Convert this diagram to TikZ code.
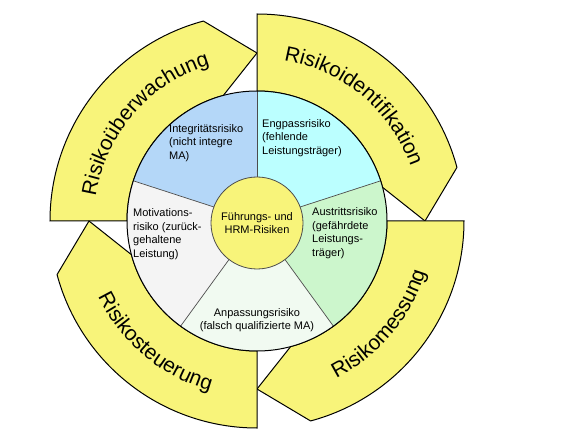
\documentclass[tikz,border=0pt]{standalone}
\usepackage{fontspec}
\setmainfont{Liberation Sans}
\usetikzlibrary{decorations.text}

\definecolor{bandyellow}{RGB}{248,244,122}
\definecolor{integblue}{RGB}{180,215,248}
\definecolor{engpasscyan}{RGB}{187,255,255}
\definecolor{austrittgreen}{RGB}{204,246,204}
\definecolor{anpassgreen}{RGB}{241,250,241}
\definecolor{motivgray}{RGB}{244,244,244}

\newcommand{\bandfont}{\fontsize{21}{25}\selectfont}

\begin{document}
\begin{tikzpicture}[x=1pt, y=1pt,
    band/.style={draw=black, line width=1pt, fill=bandyellow},
    bandtext/.style={decorate, decoration={text along path, text align=center, text={|\bandfont|#1}}},
    divider/.style={draw=black!70, line width=0.7pt}]

        \useasboundingbox (-257,-215) rectangle (310,221);

        % outer ring of four arrows
        \draw[band] (180:130) -- (180:207) arc[start angle=180, end angle=105, radius=207] -- (90:168) -- (105:130) arc[start angle=105, end angle=180, radius=130] -- cycle;
        \draw[band] (90:130) -- (90:207) arc[start angle=90, end angle=15, radius=207] -- (0:168) -- (15:130) arc[start angle=15, end angle=90, radius=130] -- cycle;
        \draw[band] (0:130) -- (0:207) arc[start angle=0, end angle=-75, radius=207] -- (-90:168) -- (-75:130) arc[start angle=-75, end angle=0, radius=130] -- cycle;
        \draw[band] (-90:130) -- (-90:207) arc[start angle=-90, end angle=-165, radius=207] -- (-180:168) -- (-165:130) arc[start angle=-165, end angle=-90, radius=130] -- cycle;

        \path[bandtext=Risikoüberwachung] (189:163) arc[start angle=189, end angle=89, radius=163];
        \path[bandtext=Risikoidentifikation] (100:163) arc[start angle=100, end angle=0, radius=163];
        \path[bandtext=Risikomessung] (-90:176) arc[start angle=-90, end angle=10, radius=176];
        \path[bandtext=Risikosteuerung] (180:176) arc[start angle=180, end angle=280, radius=176];

        % inner disk
        \fill[integblue] (0,0) -- (90:130) arc[start angle=90, end angle=162, radius=130] -- cycle;
        \fill[engpasscyan] (0,0) -- (18:130) arc[start angle=18, end angle=90, radius=130] -- cycle;
        \fill[austrittgreen] (0,0) -- (-54:130) arc[start angle=-54, end angle=18, radius=130] -- cycle;
        \fill[anpassgreen] (0,0) -- (-126:130) arc[start angle=-126, end angle=-54, radius=130] -- cycle;
        \fill[motivgray] (0,0) -- (162:130) arc[start angle=162, end angle=234, radius=130] -- cycle;

        \draw[divider] (0,0) -- (90:130);
        \draw[divider] (0,0) -- (18:130);
        \draw[divider] (0,0) -- (-54:130);
        \draw[divider] (0,0) -- (-126:130);
        \draw[divider] (0,0) -- (162:130);
        \draw[line width=1pt] (0,0) circle[radius=130];

        \begin{scope}[every node/.style={font=\fontsize{11}{13.5}\selectfont, inner sep=0pt}]
          \node[anchor=west, align=left] (integ)    at (-88,78)  {Integritätsrisiko\\(nicht integre\\MA)};
          \node[anchor=west, align=left] (engpass)  at (5,83)    {Engpassrisiko\\(fehlende\\Leistungsträger)};
          \node[anchor=west, align=left] (austritt) at (55,-12)  {Austrittsrisiko\\(gefährdete\\Leistungs-\\träger)};
          \node[anchor=west, align=left] (motiv)    at (-124,-13) {Motivations-\\risiko (zurück-\\gehaltene\\Leistung)};
          \node[align=center]            (anpass)   at (0,-99)   {Anpassungsrisiko\\(falsch qualifizierte MA)};
          \node[circle, draw=black!70, line width=0.8pt, fill=bandyellow, minimum size=92pt, align=center]
                                         (core)     at (0,-2)    {Führungs- und\\HRM-Risiken};
        \end{scope}

      \end{tikzpicture}
\end{document}
